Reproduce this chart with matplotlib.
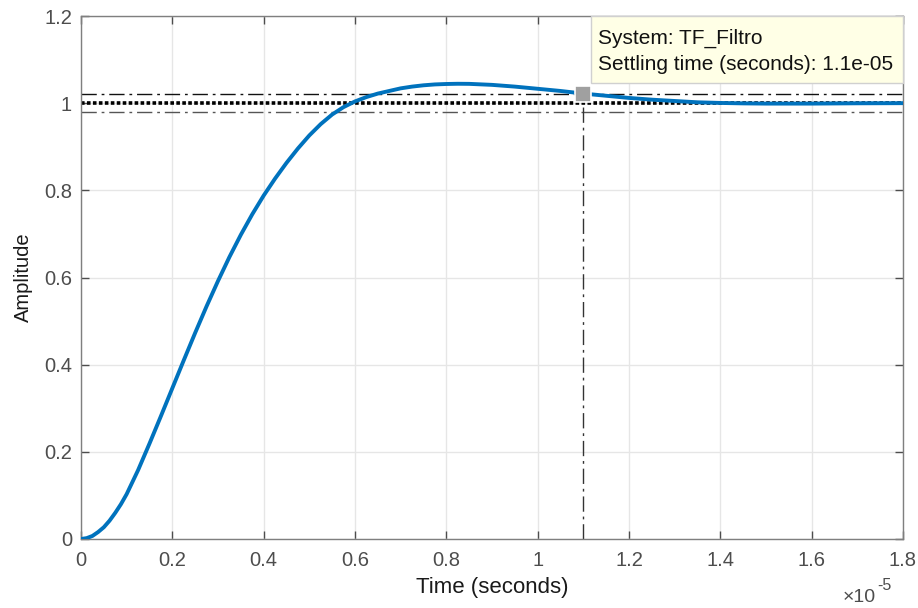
import matplotlib
matplotlib.use("Agg")
import matplotlib.pyplot as plt
from matplotlib.ticker import FixedLocator
from matplotlib.patches import Rectangle

# ---- data (time in units of 1e-5 s) ----
t = [0, 0.0125, 0.025, 0.0375, 0.05, 0.0625, 0.075, 0.0875, 0.1, 0.125, 0.15,
     0.175, 0.2, 0.225, 0.25, 0.275, 0.3, 0.325, 0.35, 0.375, 0.4, 0.425, 0.45,
     0.475, 0.5, 0.525, 0.55, 0.575, 0.6, 0.625, 0.65, 0.675, 0.7, 0.725, 0.75,
     0.775, 0.8, 0.825, 0.85, 0.9, 0.95, 1.0, 1.05, 1.1, 1.15, 1.2, 1.25, 1.3,
     1.35, 1.4, 1.45, 1.5, 1.6, 1.7, 1.8]
amp = [0, 0.002, 0.007, 0.016, 0.027, 0.042, 0.06, 0.08, 0.103, 0.158, 0.219,
       0.282, 0.346, 0.41, 0.473, 0.534, 0.592, 0.647, 0.698, 0.745, 0.788,
       0.827, 0.863, 0.896, 0.926, 0.952, 0.974, 0.991, 1.004, 1.014, 1.022,
       1.028, 1.034, 1.038, 1.041, 1.043, 1.044, 1.0445, 1.0443, 1.042, 1.038,
       1.033, 1.028, 1.022, 1.017, 1.012, 1.008, 1.005, 1.002, 1.0005, 0.9995,
       0.999, 0.999, 0.9997, 1.0]
final_value = 1.0
band_upper = 1.02
band_lower = 0.98
settling_time = 1.1
settling_amp = 1.0215
xticks = [0, 0.2, 0.4, 0.6, 0.8, 1.0, 1.2, 1.4, 1.6, 1.8]
xticklabels = ["0", "0.2", "0.4", "0.6", "0.8", "1", "1.2", "1.4", "1.6", "1.8"]
yticks = [0, 0.2, 0.4, 0.6, 0.8, 1.0, 1.2]
yticklabels = ["0", "0.2", "0.4", "0.6", "0.8", "1", "1.2"]
tip_lines = ["System: TF_Filtro", "Settling time (seconds): 1.1e-05"]

plt.rcParams['font.family'] = ['Liberation Sans', 'DejaVu Sans']

fig = plt.figure(figsize=(9.18, 6.08), dpi=100)
ax = fig.add_axes([81/918, 69/608, 822/918, 523/608])

tick_col = '#4d4d4d'
ax.set_xlim(0, 1.8)
ax.set_ylim(0, 1.2)
ax.xaxis.set_major_locator(FixedLocator(xticks))
ax.yaxis.set_major_locator(FixedLocator(yticks))
ax.set_xticklabels(xticklabels)
ax.set_yticklabels(yticklabels)
ax.tick_params(direction='in', length=6, width=1, colors=tick_col, labelsize=14.5,
               top=True, right=True)
ax.tick_params(axis='x', pad=9)
ax.tick_params(axis='y', pad=6.5)
for s in ax.spines.values():
    s.set_color('#7f7f7f')
    s.set_linewidth(1)
ax.grid(True, color='#e6e6e6', linewidth=1)
ax.set_axisbelow(True)

dd = (11, 3.5, 2, 3.5)
# settling band and final value
ax.axhline(band_upper, color='#111111', lw=1, dashes=dd)
ax.axhline(band_lower, color='#555555', lw=1, dashes=dd)
ax.axhline(final_value, color='black', lw=2.6, linestyle=(0, (1, 0.65)))

# vertical settling line
ax.plot([settling_time, settling_time], [0, settling_amp], color='#333333', lw=1,
        dashes=dd)

# response
ax.plot(t, amp, color='#0072BD', lw=2.8, solid_capstyle='round',
        solid_joinstyle='round', zorder=5)

# marker
ax.plot([settling_time], [settling_amp], marker='s', ms=11, mfc='#a0a0a0',
        mec='white', mew=1.2, zorder=6, clip_on=False)

ax.set_xlabel('Time (seconds)', fontsize=16, color='#1a1a1a')
ax.xaxis.set_label_coords(0.5, -(587 - 539) / 523, transform=ax.transAxes)
ax.xaxis.label.set_va('center')
ax.set_ylabel('Amplitude', fontsize=14.5, color='#1a1a1a')
ax.yaxis.set_label_coords(-(81 - 23) / 822, 0.5, transform=ax.transAxes)
ax.yaxis.label.set_va('center')

# exponent
fig.text(843/918, 1 - 597/608, '\u00d710', fontsize=14, color=tick_col,
         va='center', ha='left')
fig.text(877/918, 1 - 586/608, '-5', fontsize=11.5, color=tick_col,
         va='center', ha='left')

# data tip
box_x0, box_x1 = 591/918, 903/918
box_y0, box_y1 = 1 - 83/608, 1 - 16/608
fig.patches.append(Rectangle((box_x0, box_y0), box_x1 - box_x0, box_y1 - box_y0,
                             transform=fig.transFigure, facecolor='#ffffe6',
                             edgecolor='#d0d0d0', lw=1, zorder=10))
fig.text(598/918, 1 - 38/608, tip_lines[0], fontsize=15, color='#111111',
         va='center', ha='left', zorder=11)
fig.text(598/918, 1 - 64/608, tip_lines[1], fontsize=15,
         color='#111111', va='center', ha='left', zorder=11)

fig.savefig('out.png', dpi=100)
